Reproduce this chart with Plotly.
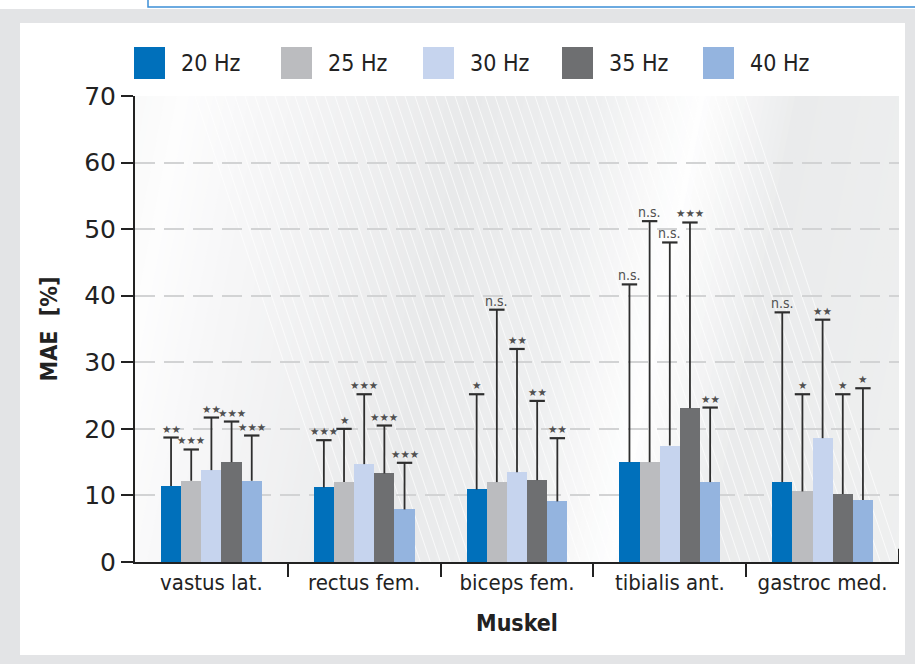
import plotly.graph_objects as go

# Muscles (x categories) and stimulation frequencies (series)
muscles = ["vastus lat.", "rectus fem.", "biceps fem.", "tibialis ant.", "gastroc med."]
freqs = ["20 Hz", "25 Hz", "30 Hz", "35 Hz", "40 Hz"]
colors = ["#0070bb", "#bbbcbf", "#c6d4ee", "#6e6f71", "#94b4df"]

# Mean absolute error [%] per frequency, one value per muscle
mae_20 = [11.4, 11.2, 10.9, 15.0, 12.0]
mae_25 = [12.2, 12.0, 12.0, 15.0, 10.6]
mae_30 = [13.8, 14.7, 13.5, 17.5, 18.6]
mae_35 = [15.0, 13.3, 12.3, 23.1, 10.2]
mae_40 = [12.2, 7.9, 9.1, 12.0, 9.3]

# Standard deviations (upper whiskers)
sd_20 = [7.3, 7.1, 14.3, 26.7, 25.5]
sd_25 = [4.7, 8.0, 25.9, 36.2, 14.6]
sd_30 = [7.9, 10.5, 18.5, 30.5, 17.8]
sd_35 = [6.1, 7.2, 11.9, 27.9, 15.0]
sd_40 = [6.8, 7.0, 9.5, 11.2, 16.8]

# Significance markers above each whisker
sig_20 = ["**", "***", "*", "n.s.", "n.s."]
sig_25 = ["***", "*", "n.s.", "n.s.", "*"]
sig_30 = ["**", "***", "**", "n.s.", "**"]
sig_35 = ["***", "***", "**", "***", "*"]
sig_40 = ["***", "***", "**", "**", "*"]

y_ticks = [0, 10, 20, 30, 40, 50, 60, 70]

means = [mae_20, mae_25, mae_30, mae_35, mae_40]
sds = [sd_20, sd_25, sd_30, sd_35, sd_40]
sigs = [sig_20, sig_25, sig_30, sig_35, sig_40]

W, H = 915, 664
ML, MR, MT, MB = 135, 16, 96, 102
PW, PH = W - ML - MR, H - MT - MB
X0, X1, Y0, Y1 = -0.5, 4.5, 0, 70
UX = PW / (X1 - X0)   # px per category
UY = PH / (Y1 - Y0)   # px per percent

COND = "DejaVu Sans Condensed, DejaVu Sans, sans-serif"


def px(xp):
    return (xp - ML) / PW


def py(yp):
    return (H - MB - yp) / PH


def dx(xp):
    """pixel column -> data x"""
    return X0 + (xp - ML) / UX


def hex2rgb(h):
    return tuple(int(h[i:i + 2], 16) for i in (1, 3, 5))


def blend(stops, xp):
    for (a, ca), (b, cb) in zip(stops, stops[1:]):
        if a <= xp <= b:
            t = (xp - a) / (b - a)
            r = [round(u + (v - u) * t) for u, v in zip(hex2rgb(ca), hex2rgb(cb))]
            return "rgb(%d,%d,%d)" % tuple(r)
    return stops[-1][1] if xp > stops[-1][0] else stops[0][1]


shapes = [
    # outer grey frame and inner white panel
    dict(type="rect", xref="paper", yref="paper", x0=px(0), x1=px(W), y0=py(H), y1=py(9),
         fillcolor="#e3e4e6", line=dict(width=0), layer="below"),
    dict(type="rect", xref="paper", yref="paper", x0=px(20), x1=px(905), y0=py(655), y1=py(23),
         fillcolor="#ffffff", line=dict(width=0), layer="below"),
    # thin blue header rule
    dict(type="path", xref="paper", yref="paper",
         path=f"M {px(148)},{py(-2)} L {px(148)},{py(7)} L {px(917)},{py(7)}",
         line=dict(color="#3d8fd6", width=1.5), layer="below"),
]

# slanted light/shade bands of the panel background (top-edge pixel -> colour)
band_stops = [(100, "#f6f7f7"), (185, "#fdfdfd"), (270, "#f6f6f7"), (470, "#e8e9ea"),
              (600, "#eeeff0"), (700, "#fefefe"), (800, "#eaebec"), (1000, "#eff0f0")]
lean = 90  # band shift to the left from top to bottom, px
step = 6
for xt in range(ML - 6, ML + PW + lean + 6, step):
    c = blend(band_stops, xt + step / 2)
    path = (f"M {dx(xt)},{Y1} L {dx(xt + step + 1)},{Y1} "
            f"L {dx(xt + step + 1 - lean)},{Y0} L {dx(xt - lean)},{Y0} Z")
    shapes.append(dict(type="path", xref="x", yref="y", path=path,
                       fillcolor=c, line=dict(width=0), layer="below"))

# fine diagonal hatching
slope = 3.0
for k in range(56):
    xt = 195 + 10 * k
    shapes.append(dict(type="line", xref="x", yref="y",
                       x0=dx(xt), y0=Y1, x1=dx(xt + PH / slope), y1=Y0,
                       line=dict(color="rgba(255,255,255,0.7)", width=1), layer="below"))

# end stub of the category axis
shapes.append(dict(type="line", xref="x", yref="y", x0=X1, x1=X1, y0=0, y1=2,
                   line=dict(color="#222222", width=2)))

fig = go.Figure()
bar_w = 0.132
annotations = []

for j, name in enumerate(freqs):
    xs = [i + (j - 2) * bar_w for i in range(len(muscles))]
    fig.add_trace(go.Bar(
        x=xs, y=means[j], width=bar_w, name=name,
        marker=dict(color=colors[j], line=dict(width=0)), showlegend=False,
    ))

for j, name in enumerate(freqs):
    xs = [i + (j - 2) * bar_w for i in range(len(muscles))]
    tops = [m + s for m, s in zip(means[j], sds[j])]
    wx, wy = [], []
    for x, m, t in zip(xs, means[j], tops):
        wx += [x, x, None]
        wy += [m, t, None]
    fig.add_trace(go.Scatter(x=wx, y=wy, mode="lines",
                             line=dict(color="#2e2e2e", width=1.8),
                             hoverinfo="skip", showlegend=False))
    fig.add_trace(go.Scatter(x=xs, y=tops, mode="markers",
                             marker=dict(symbol="line-ew", size=11,
                                         line=dict(color="#2e2e2e", width=2.2)),
                             hoverinfo="skip", showlegend=False))
    for i, lab in enumerate(sigs[j]):
        star = lab.startswith("*")
        annotations.append(dict(
            x=xs[i], y=tops[i], xref="x", yref="y",
            text=lab.replace("*", "★") if star else lab,
            showarrow=False, yanchor="bottom", yshift=2 if star else 0,
            borderpad=0,
            font=dict(family="DejaVu Sans" if star else COND,
                      size=10.5 if star else 14, color="#505050"),
        ))

# Legend drawn as squares + labels across the top
leg_sq_x = [134, 281, 423, 562, 703]
for j, name in enumerate(freqs):
    x0 = leg_sq_x[j]
    shapes.append(dict(type="rect", xref="paper", yref="paper",
                       x0=px(x0), x1=px(x0 + 31), y0=py(79), y1=py(47),
                       fillcolor=colors[j], line=dict(width=0)))
    annotations.append(dict(x=px(x0 + 45), y=py(63), xref="paper", yref="paper",
                            text=name, showarrow=False, xanchor="left", yanchor="middle",
                            font=dict(family=COND, size=23, color="#222222")))

fig.update_layout(
    width=W, height=H,
    margin=dict(l=ML, r=MR, t=MT, b=MB),
    paper_bgcolor="#ffffff", plot_bgcolor="rgba(0,0,0,0)",
    barmode="overlay", bargap=0,
    shapes=shapes, annotations=annotations,
    xaxis=dict(
        range=[X0, X1], tickmode="array", tickvals=list(range(len(muscles))),
        ticktext=muscles, ticks="", showgrid=False, zeroline=False,
        showline=True, linecolor="#222222", linewidth=2,
        tickfont=dict(family=COND, size=22, color="#222222"),
        minor=dict(tickmode="array", tickvals=[0.5, 1.5, 2.5, 3.5], ticks="outside",
                   ticklen=13, tickwidth=1.6, tickcolor="#222222", showgrid=False),
        title=dict(text="<b>Muskel</b>", standoff=20,
                   font=dict(family=COND, size=23, color="#222222")),
    ),
    yaxis=dict(
        range=[Y0, Y1], tickmode="array", tickvals=y_ticks,
        ticks="outside", ticklen=12, tickwidth=1.6, tickcolor="#222222",
        showline=True, linecolor="#222222", linewidth=2, zeroline=False,
        showgrid=True, gridcolor="#d2d3d4", gridwidth=2, griddash="20px,9px",
        tickfont=dict(family="DejaVu Sans", size=25, color="#222222"),
        title=dict(text="<b>MAE  [%]</b>", standoff=20,
                   font=dict(family=COND, size=23, color="#222222")),
    ),
)

fig.write_html("out.html")
